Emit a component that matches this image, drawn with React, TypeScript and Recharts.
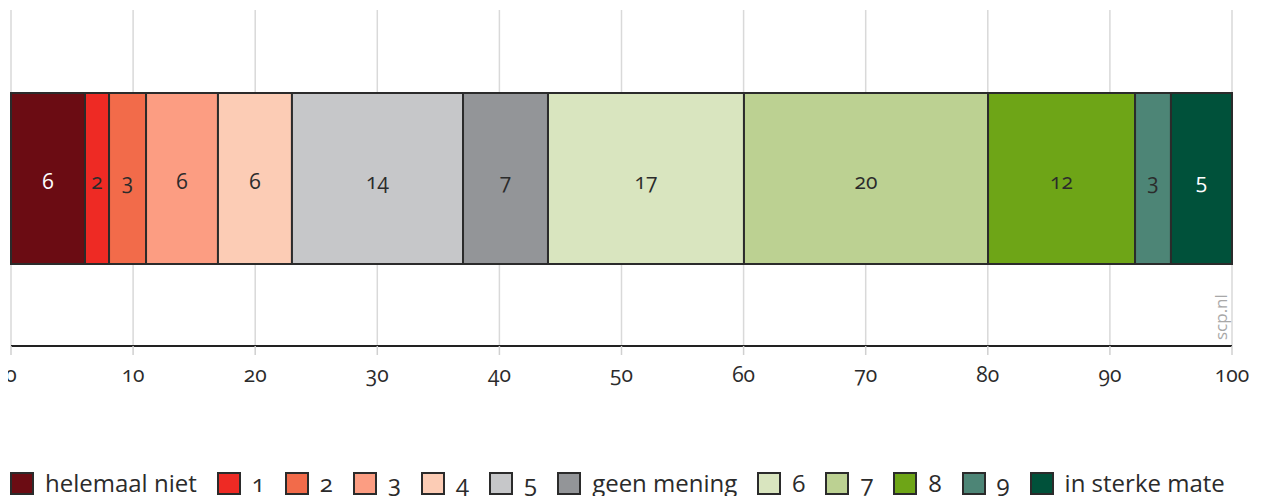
import { BarChart, Bar, XAxis, YAxis, CartesianGrid, LabelList } from "recharts"

const categories = ["helemaal niet", "1", "2", "3", "4", "5", "geen mening", "6", "7", "8", "9", "in sterke mate"]
const shares = [6.06, 1.97, 3.03, 5.89, 6.06, 14.01, 6.96, 16.05, 19.99, 12.04, 2.94, 5.0]
const shownValues = ["6", "2", "3", "6", "6", "14", "7", "17", "20", "12", "3", "5"]
const colors = [
    "#6b0c13", "#ee2a24", "#f26b4a", "#fc9d82", "#fcccb5", "#c6c7c9",
    "#939598", "#d9e5bf", "#bcd192", "#6ea517", "#4d8576", "#00513a",
]
const labelColors = ["#ffffff", "#2b2b2b", "#2b2b2b", "#2b2b2b", "#2b2b2b", "#2b2b2b",
    "#2b2b2b", "#2b2b2b", "#2b2b2b", "#2b2b2b", "#2b2b2b", "#ffffff"]
const xTicks = [0, 10, 20, 30, 40, 50, 60, 70, 80, 90, 100]

const row: Record<string, number | string> = { name: "totaal" }
shares.forEach((v, i) => {
    row[`s${i}`] = v
})
const data = [row]

const font = "'Open Sans', 'Noto Sans', sans-serif"

export default function App() {
    return (
        <div style={{ fontFamily: font, fontVariantNumeric: "oldstyle-nums", width: 1256, marginLeft: -8 }}>
            <div style={{ position: "relative", width: 1256, height: 400 }}>
                <BarChart
                    width={1256}
                    height={400}
                    data={data}
                    layout="vertical"
                    margin={{ top: 2, right: 24, bottom: 22, left: 11 }}
                >
                    <CartesianGrid horizontal={false} stroke="#d9d9d9" strokeWidth={1.5} />
                    <XAxis
                        type="number"
                        domain={[0, 100]}
                        ticks={xTicks}
                        height={40}
                        axisLine={{ stroke: "#222", strokeWidth: 2 }}
                        tickLine={{ stroke: "#d0d0d0", strokeWidth: 1.5 }}
                        tickSize={9}
                        tickMargin={12}
                        tick={{ fill: "#2b2b2b", fontSize: 21, fontFamily: font, style: { fontVariantNumeric: "oldstyle-nums" } }}
                        interval={0}
                    />
                    <YAxis type="category" dataKey="name" hide />
                    {categories.map((c, i) => (
                        <Bar
                            key={c}
                            dataKey={`s${i}`}
                            name={c}
                            stackId="a"
                            fill={colors[i]}
                            stroke="#2b2b2b"
                            strokeWidth={2}
                            barSize={171}
                            isAnimationActive={false}
                        >
                            <LabelList
                                dataKey={`s${i}`}
                                position="center"
                                formatter={() => shownValues[i]}
                                fill={labelColors[i]}
                                fontSize={21}
                                fontFamily={font}
                                dy={3}
                                style={{ fontVariantNumeric: "oldstyle-nums" }}
                            />
                        </Bar>
                    ))}
                </BarChart>
                <div
                    style={{
                        position: "absolute",
                        left: 1211,
                        top: 332,
                        color: "#a8a8a8",
                        fontSize: 17,
                        transform: "rotate(-90deg)",
                        transformOrigin: "left top",
                        lineHeight: "20px",
                    }}
                >
                    scp.nl
                </div>
            </div>
            <div
                style={{
                    display: "flex",
                    alignItems: "center",
                    marginTop: 62,
                    marginLeft: 10,
                    fontSize: 24,
                    color: "#2b2b2b",
                    lineHeight: "26px",
                }}
            >
                {categories.map((c, i) => (
                    <div key={c} style={{ display: "flex", alignItems: "center", marginRight: 20 }}>
                        <span
                            style={{
                                display: "inline-block",
                                width: 20,
                                height: 19,
                                background: colors[i],
                                border: "2px solid #2b2b2b",
                                marginRight: 11,
                            }}
                        />
                        <span>{c}</span>
                    </div>
                ))}
            </div>
        </div>
    )
}
